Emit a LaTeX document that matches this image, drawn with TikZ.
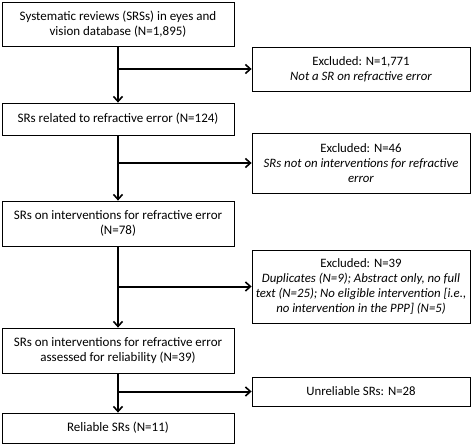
\documentclass[tikz,border=0pt]{standalone}
\usepackage{fontspec}
\setmainfont{Carlito}
\usetikzlibrary{arrows.meta,positioning,calc}

\begin{document}
\begin{tikzpicture}[x=1pt, y=-1pt,
  stagebox/.style={draw, line width=0.8pt, minimum width=232pt, align=center, font=\fontsize{13}{15}\selectfont},
  exclbox/.style={draw, line width=0.8pt, minimum width=218pt, inner xsep=1pt, align=center, font=\fontsize{12.8}{15}\selectfont},
  flow/.style={line width=2pt, -{Straight Barb[length=5pt, width=9pt, line width=1.6pt]}}
]
  \useasboundingbox (0,0) rectangle (472,445);

  %% Main stages (left column)
  \node[stagebox, minimum height=44pt] (all) at (118,24) {Systematic reviews (SRSs) in eyes and\\vision database (N=1,895)};
  \node[stagebox, minimum height=32pt] (rel) at (118,119) {SRs related to refractive error (N=124)};
  \node[stagebox, minimum height=45pt] (intv) at (118,223.5) {SRs on interventions for refractive error\\(N=78)};
  \node[stagebox, minimum height=45pt] (assd) at (118,350.5) {SRs on interventions for refractive error\\assessed for reliability (N=39)};
  \node[stagebox, minimum height=30pt] (reli) at (118,428) {Reliable SRs (N=11)};

  %% Exclusions (right column)
  \node[exclbox, minimum height=44pt] (ex1) at (361,69) {Excluded: N=1,771\\\textit{Not a SR on refractive error}};
  \node[exclbox, minimum height=60pt] (ex2) at (361,163) {Excluded: N=46\\\textit{SRs not on interventions for refractive}\\\textit{error}};
  \node[exclbox, minimum height=73pt] (ex3) at (361,286.5) {Excluded: N=39\\\textit{Duplicates (N=9); Abstract only, no full}\\\textit{text (N=25); No eligible intervention [i.e.,}\\\textit{no intervention in the PPP] (N=5)}};
  \node[exclbox, minimum height=29pt] (ex4) at (361,391.5) {Unreliable SRs: N=28};

  %% Flow
  \draw[flow] (all) -- (rel);
  \draw[flow] (rel) -- (intv);
  \draw[flow] (intv) -- (assd);
  \draw[flow] (assd) -- (reli);

  %% Branches
  \draw[flow] (all.south |- ex1.west) -- (ex1.west);
  \draw[flow] (rel.south |- ex2.west) -- (ex2.west);
  \draw[flow] (intv.south |- ex3.west) -- (ex3.west);
  \draw[flow] (assd.south |- ex4.west) -- (ex4.west);
\end{tikzpicture}
\end{document}
